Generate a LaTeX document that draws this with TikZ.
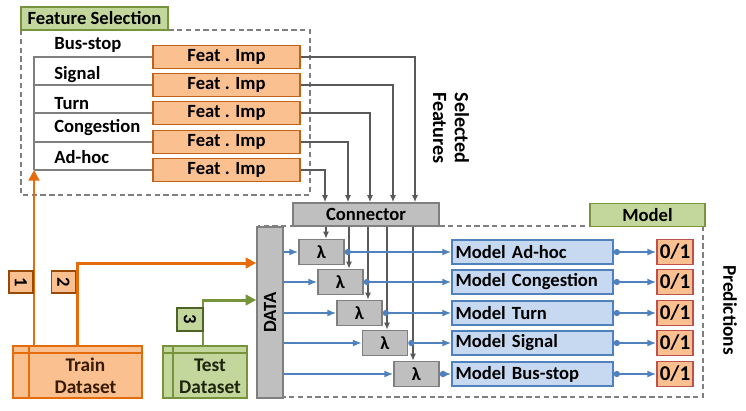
\documentclass[tikz,border=0pt]{standalone}
\usepackage{fontspec}
\setmainfont{Carlito}
\usetikzlibrary{arrows.meta,positioning,calc}

\definecolor{orfill}{HTML}{FAC090}
\definecolor{orline}{HTML}{E46C0A}
\definecolor{brline}{HTML}{C0621A}
\definecolor{numline}{HTML}{984807}
\definecolor{grfill}{HTML}{C3D69B}
\definecolor{grline}{HTML}{77933C}
\definecolor{dkgreen}{HTML}{4F6228}
\definecolor{blfill}{HTML}{C6D9F1}
\definecolor{blline}{HTML}{4F81BD}
\definecolor{gyfill}{HTML}{BFBFBF}
\definecolor{gyline}{HTML}{7F7F7F}
\definecolor{wire}{HTML}{595959}
\definecolor{redline}{HTML}{C0504D}

\tikzset{
  box/.style={draw, line width=0.9pt, inner sep=0pt},
  featbox/.style={box, fill=orfill, draw=brline, minimum width=2.94cm, minimum height=0.46cm},
  greenbox/.style={box, fill=grfill, draw=grline, minimum height=0.46cm},
  graybox/.style={box, fill=gyfill, draw=gyline},
  lambox/.style={graybox, minimum width=0.9cm, minimum height=0.5cm},
  modelbox/.style={box, fill=blfill, draw=blline, minimum width=3.22cm,
    minimum height=0.48cm, text width=3.08cm, align=left, inner xsep=0.07cm},
  outbox/.style={box, fill=orfill, draw=redline, minimum width=0.72cm,
    minimum height=0.5cm, font=\fontsize{12}{14}\selectfont\bfseries},
  numbox/.style={box, fill=orfill, draw=numline, minimum width=0.48cm, minimum height=0.44cm},
  frame/.style={draw=gyline, line width=0.8pt, dash pattern=on 3pt off 2pt},
  wireline/.style={draw=wire, line width=0.9pt},
  blarrow/.style={draw=blline, line width=0.9pt, -{Latex[length=5pt,width=4pt]}},
  orarrow/.style={draw=orline, line width=1.7pt, -{Triangle[length=6pt,width=6pt]}},
  grarrow/.style={draw=grline, line width=1.7pt, -{Triangle[length=6pt,width=6pt]}},
  store/.style 2 args={path picture={
      \draw[#2, line width=0.9pt] ([xshift=#1]path picture bounding box.north west)
        -- ([xshift=#1]path picture bounding box.south west);
      \draw[#2, line width=0.9pt] ([yshift=-0.14cm]path picture bounding box.north west)
        -- ([yshift=-0.14cm]path picture bounding box.north east);}},
  dstext/.style={align=center, inner sep=0pt, font=\fontsize{11}{12.5}\selectfont\bfseries},
  sidetext/.style={rotate=-90, align=center, inner sep=0pt, font=\fontsize{11.5}{12.5}\selectfont\bfseries}
}

\begin{document}
\begin{tikzpicture}[x=0.02cm, y=-0.02cm, font=\fontsize{10.6}{12.5}\selectfont\bfseries]
\useasboundingbox (0,0) rectangle (746,410);

% frames
\draw[frame] (21,30) rectangle (310,195);
\draw[frame] (258,226) rectangle (703,397);

\node[greenbox, minimum width=2.94cm] (fsel) at (94.5,18.5) {Feature Selection};
\node[greenbox, minimum width=2.3cm] (mdl) at (647.5,215) {Model};

% feature importance
\begin{scope}[every node/.style={featbox}]
  \node (imp1) at (226.5,57)  {Feat . Imp};
  \node (imp2) at (226.5,85)  {Feat . Imp};
  \node (imp3) at (226.5,113) {Feat . Imp};
  \node (imp4) at (226.5,142) {Feat . Imp};
  \node (imp5) at (226.5,170) {Feat . Imp};
\end{scope}

\begin{scope}[every node/.style={anchor=west, inner sep=0pt}]
  \node (bus)  at (54,45)  {Bus-stop};
  \node (sig)  at (54,75)  {Signal};
  \node (turn) at (54,104) {Turn};
  \node (cong) at (54,128) {Congestion};
  \node (adh)  at (54,157) {Ad-hoc};
\end{scope}

\coordinate (fsin) at (34,170);
\draw[wireline, draw=gyline] (fsin) |- (imp1.west);
\foreach \i in {2,...,5}
  \draw[wireline, draw=gyline] (fsin |- imp\i.west) -- (imp\i.west);

% connector
\node[graybox, minimum width=2.92cm, minimum height=0.46cm] (conn) at (366,214.5) {Connector};
\foreach \i/\d in {1/49,2/27,3/4,4/-18,5/-41}
  \draw[wireline, -{Latex[length=4pt,width=3.5pt]}] (imp\i.east) -| ($(conn.north)+(\d,0)$);

\node[sidetext] (self) at (451,128) {Selected\\Features};

% data and lambdas
\node[graybox, minimum width=0.52cm, minimum height=3.42cm] (data) at (270,312.5) {\rotatebox{90}{DATA}};

\begin{scope}[every node/.style={lambox}]
  \node (lam1) at (321.5,252) {λ};
  \node (lam2) at (340.5,282) {λ};
  \node (lam3) at (359.5,313) {λ};
  \node (lam4) at (385,343)   {λ};
  \node (lam5) at (416.5,374) {λ};
\end{scope}

\foreach \i/\d in {1/4.5,2/8.5,3/8.5,4/2,5/-3.5}{
  \coordinate (top\i) at ($(lam\i.north)+(\d,0)$);
  \draw[wireline, -{Latex[length=4pt,width=3.5pt]}] (conn.south -| top\i) -- (top\i);
}

% models
\begin{scope}[every node/.style={modelbox}]
  \node (mod1) at (532.5,252) {Model Ad-hoc};
  \node (mod2) at (532.5,282) {Model Congestion};
  \node (mod3) at (532.5,313) {Model Turn};
  \node (mod4) at (532.5,343) {Model Signal};
  \node (mod5) at (532.5,374) {Model Bus-stop};
\end{scope}

\begin{scope}[every node/.style={outbox}]
  \node (out1) at (675,252) {0/1};
  \node (out2) at (675,282) {0/1};
  \node (out3) at (675,313) {0/1};
  \node (out4) at (675,343) {0/1};
  \node (out5) at (675,374) {0/1};
\end{scope}

\foreach \i in {1,...,5}{
  \draw[blarrow] (data.east |- lam\i.west) -- (lam\i.west);
  \draw[blarrow, {Circle[length=3.5pt]}-{Latex[length=5pt,width=4pt]}] (lam\i.east) -- (mod\i.west);
  \draw[blarrow, {Circle[length=3.5pt]}-{Latex[length=5pt,width=4pt]}] (mod\i.east) -- (out\i.west);
}

\node[sidetext, font=\fontsize{11}{12.5}\selectfont\bfseries] (pred) at (730,310) {Predictions};

% datasets
\node[box, fill=orfill, draw=orline, minimum width=2.58cm, minimum height=1.04cm,
  store={0.32cm}{orline}] (train) at (77.5,372) {};
\node[dstext, text=black!75!orline] (traintxt) at (85.5,376) {Train\\Dataset};
\node[box, fill=grfill, draw=grline, minimum width=1.68cm, minimum height=1.04cm,
  store={0.2cm}{grline}] (test) at (205,372) {};
\node[dstext, text=black!75!grline] (testtxt) at (210,376) {Test\\Dataset};

\draw[orarrow] (fsin |- train.north) -- (fsin);
\draw[orarrow] (train.north) |- ($(data.west)+(0,-49.5)$);
\draw[grarrow] ($(test.north)+(-2,0)$) |- ($(data.west)+(0,-12.5)$);

\node[numbox] (n1) at (21,282) {\rotatebox{-90}{1}};
\node[numbox] (n2) at (63.5,282) {\rotatebox{-90}{2}};
\node[numbox, fill=grfill, draw=dkgreen, minimum width=0.52cm, minimum height=0.46cm]
  (n3) at (190,319.5) {\rotatebox{-90}{3}};

\end{tikzpicture}
\end{document}
